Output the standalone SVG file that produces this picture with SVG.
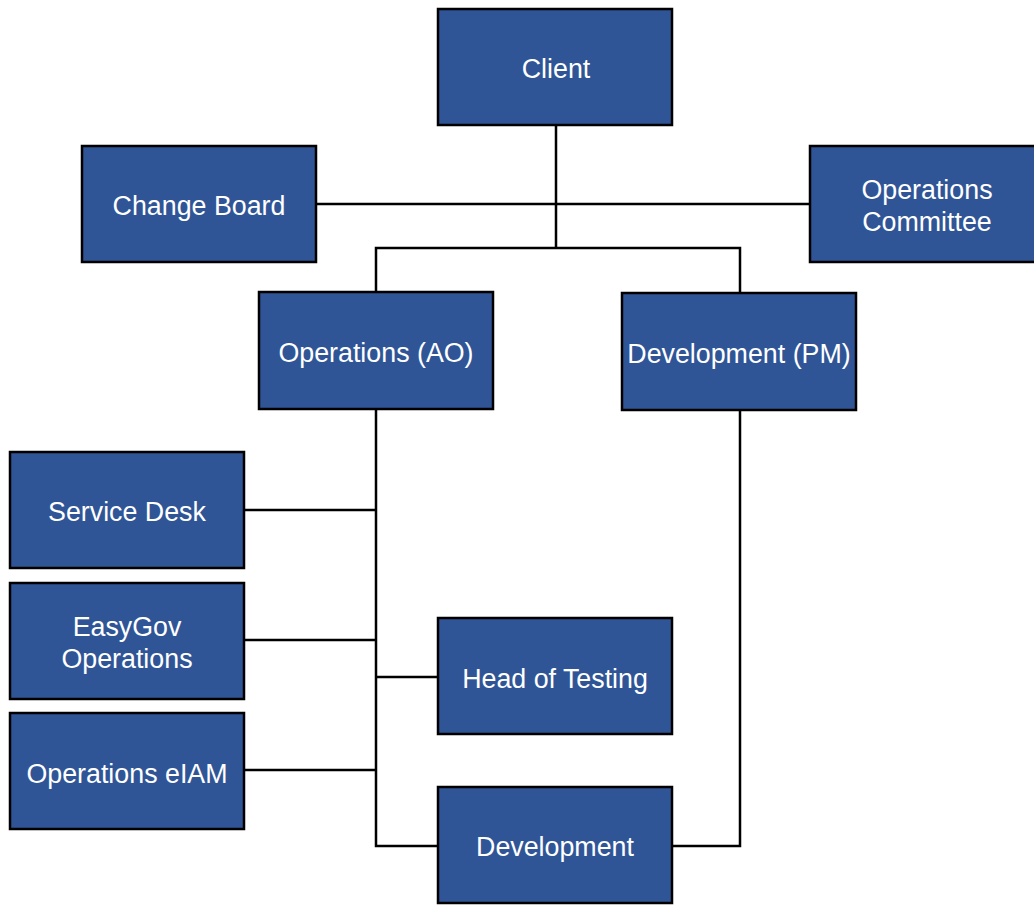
<svg xmlns="http://www.w3.org/2000/svg" width="1034" height="905" viewBox="0 0 1034 905">
<style>
.box{fill:#2f5597;stroke:#000;stroke-width:2.5}
.lbl{fill:#fff;font-family:"Liberation Sans",Arial,sans-serif;font-size:26.8px;text-anchor:middle}
.ln{fill:none;stroke:#000;stroke-width:2.5}
</style>
<rect width="1034" height="905" fill="#fff"/>
<g id="connectors">
<path class="ln" d="M556 125V248M316 204H810M376 292V248H740V293"/>
<path class="ln" d="M376 409V846H438M244 510H376M244 640H376M244 770H376M376 677H438"/>
<path class="ln" d="M740 410V846H672"/>
</g>
<g id="client"><rect class="box" x="438" y="9" width="234" height="116"/><text class="lbl" x="556" y="78">Client</text></g>
<g id="change-board"><rect class="box" x="82" y="146" width="234" height="116"/><text class="lbl" x="199" y="215">Change Board</text></g>
<g id="ops-committee"><rect class="box" x="810" y="146" width="232" height="116"/><text class="lbl" x="927" y="199">Operations</text><text class="lbl" x="927" y="231">Committee</text></g>
<g id="ops-ao"><rect class="box" x="259" y="292" width="234" height="117"/><text class="lbl" x="376" y="362">Operations (AO)</text></g>
<g id="dev-pm"><rect class="box" x="622" y="293" width="234" height="117"/><text class="lbl" x="739" y="363">Development (PM)</text></g>
<g id="service-desk"><rect class="box" x="10" y="452" width="234" height="116"/><text class="lbl" x="127" y="521">Service Desk</text></g>
<g id="easygov"><rect class="box" x="10" y="583" width="234" height="116"/><text class="lbl" x="127" y="636">EasyGov</text><text class="lbl" x="127" y="668">Operations</text></g>
<g id="ops-eiam"><rect class="box" x="10" y="713" width="234" height="116"/><text class="lbl" x="127" y="783">Operations eIAM</text></g>
<g id="head-testing"><rect class="box" x="438" y="618" width="234" height="116"/><text class="lbl" x="555" y="688">Head of Testing</text></g>
<g id="development"><rect class="box" x="438" y="787" width="234" height="116"/><text class="lbl" x="555" y="856">Development</text></g>
</svg>
